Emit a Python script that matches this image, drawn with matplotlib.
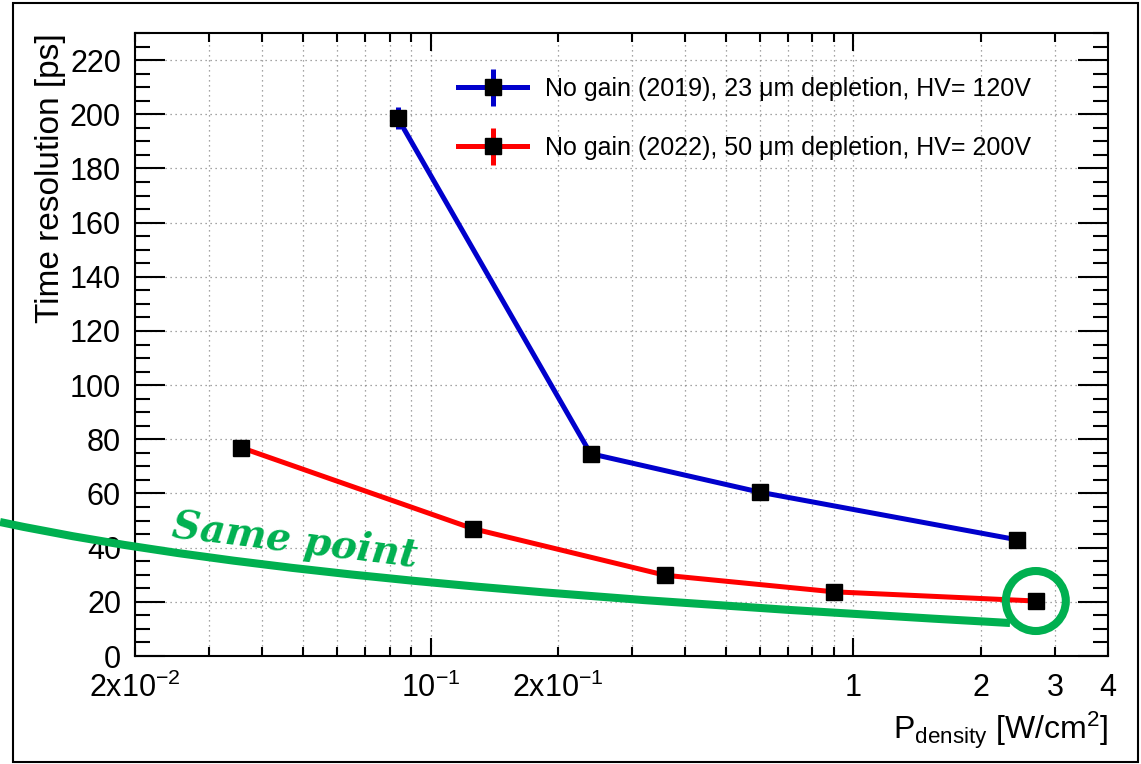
import numpy as np
import matplotlib
matplotlib.use('Agg')
import matplotlib.pyplot as plt
from matplotlib.path import Path
from matplotlib.patches import PathPatch, Circle, Rectangle
from matplotlib.transforms import IdentityTransform
from matplotlib.legend_handler import HandlerErrorbar
from matplotlib.container import ErrorbarContainer

plt.rcParams['font.family'] = ['Liberation Sans', 'DejaVu Sans']
plt.rcParams['mathtext.fontset'] = 'custom'
plt.rcParams['mathtext.rm'] = 'Liberation Sans'
plt.rcParams['mathtext.it'] = 'Liberation Sans:italic'
plt.rcParams['mathtext.bf'] = 'Liberation Sans:bold'

# Data
p_2019 = [0.0837, 0.239, 0.600, 2.44]
t_2019 = [198.5, 74.7, 60.5, 42.9]
e_2019 = [4.0, 0.0, 0.0, 0.0]
p_2022 = [0.0357, 0.126, 0.359, 0.898, 2.70]
t_2022 = [76.9, 47.0, 29.8, 23.7, 20.3]
e_2022 = [0.0, 0.0, 0.0, 0.0, 0.0]
label_2019 = 'No gain (2019), 23 μm depletion, HV= 120V'
label_2022 = 'No gain (2022), 50 μm depletion, HV= 200V'

x_major = [0.1, 1.0]
x_major_labels = ['10$^{-1}$', '1']
x_minor = [0.02, 0.03, 0.04, 0.05, 0.06, 0.07, 0.08, 0.09,
           0.2, 0.3, 0.4, 0.5, 0.6, 0.7, 0.8, 0.9, 2.0, 3.0, 4.0]
x_minor_labels = ['2x10$^{-2}$', '', '', '', '', '', '', '',
                  '2x10$^{-1}$', '', '', '', '', '', '', '', '2', '3', '4']
y_ticks = np.arange(0, 221, 20)

GREEN = '#00B050'
W, H = 1141, 764

fig = plt.figure(figsize=(W / 100, H / 100), dpi=100)
fig.subplots_adjust(left=135 / W, right=1108 / W, top=1 - 33 / H, bottom=1 - 656 / H)
ax = fig.add_subplot(111)

ax.set_xscale('log')
ax.set_xlim(0.02, 4)
ax.set_ylim(0, 230)

ax.errorbar(p_2019, t_2019, yerr=e_2019, color='#0000CC', lw=3.6, elinewidth=3.6,
            capsize=0, marker='s', ms=11.5, mfc='k', mec='k', label=label_2019, zorder=3)
ax.errorbar(p_2022, t_2022, yerr=e_2022, color='#FF0000', lw=3.6, elinewidth=3.6,
            capsize=0, marker='s', ms=11.5, mfc='k', mec='k', label=label_2022, zorder=3)

# ticks
ax.set_xticks(x_major, labels=x_major_labels)
ax.set_xticks(x_minor, labels=x_minor_labels, minor=True)
ax.set_yticks(y_ticks)
ax.set_yticks(np.arange(0, 231, 5), minor=True)
ax.tick_params(axis='both', which='both', direction='in', top=True, right=True,
               labelsize=22, width=1.5, color='k')
ax.tick_params(axis='y', which='major', length=21.6, pad=10)
ax.tick_params(axis='y', which='minor', length=10.8)
ax.tick_params(axis='x', which='major', length=13, pad=12)
ax.tick_params(axis='x', which='minor', length=6.5, pad=12)

ax.grid(True, axis='x', which='both', color='#888888', linestyle=(0, (1, 3)), lw=0.9)
ax.grid(True, axis='y', which='major', color='#888888', linestyle=(0, (1, 3)), lw=0.9)
ax.set_axisbelow(True)
for s in ax.spines.values():
    s.set_linewidth(1.5)

ax.set_ylabel('Time resolution [ps]', loc='top', fontsize=24, labelpad=3)
ax.set_xlabel('P$_{\\rm density}$ [W/cm$^{2}$]', loc='right', fontsize=23, labelpad=4)

ax.legend(loc='upper left', bbox_to_anchor=(458 / W, 1 - 77 / H),
          bbox_transform=fig.transFigure, frameon=False, fontsize=18, numpoints=1,
          borderpad=0, borderaxespad=0, handlelength=2.76, handletextpad=0.72,
          labelspacing=1.4,
          handler_map={ErrorbarContainer: HandlerErrorbar(yerr_size=0.75)})

# outer frame
fig.add_artist(Rectangle((13, H - 762), 1138 - 13, 762 - 3, fill=False, lw=1.5,
                         edgecolor='k', transform=IdentityTransform(), zorder=5))

# green annotation: curve + circle around the last 2022 point
curve = Path([(0, H - 522), (250, H - 575), (600, H - 600), (1010, H - 623)],
             [Path.MOVETO, Path.CURVE4, Path.CURVE4, Path.CURVE4])
fig.add_artist(PathPatch(curve, fill=False, lw=5.8, edgecolor=GREEN,
                         transform=IdentityTransform(), zorder=6))
cx, cy = ax.transData.transform((p_2022[-1], t_2022[-1]))
fig.add_artist(Circle((cx, cy), 30, fill=False, lw=5.8, edgecolor=GREEN,
                      transform=IdentityTransform(), zorder=6))
fig.text(295 / W, 1 - 541 / H, 'Same point', rotation=-7, rotation_mode='anchor',
         ha='center', va='center', color=GREEN, fontsize=28, fontweight='bold',
         style='italic', family='DejaVu Serif', zorder=6)

fig.savefig('out.png', dpi=100)
